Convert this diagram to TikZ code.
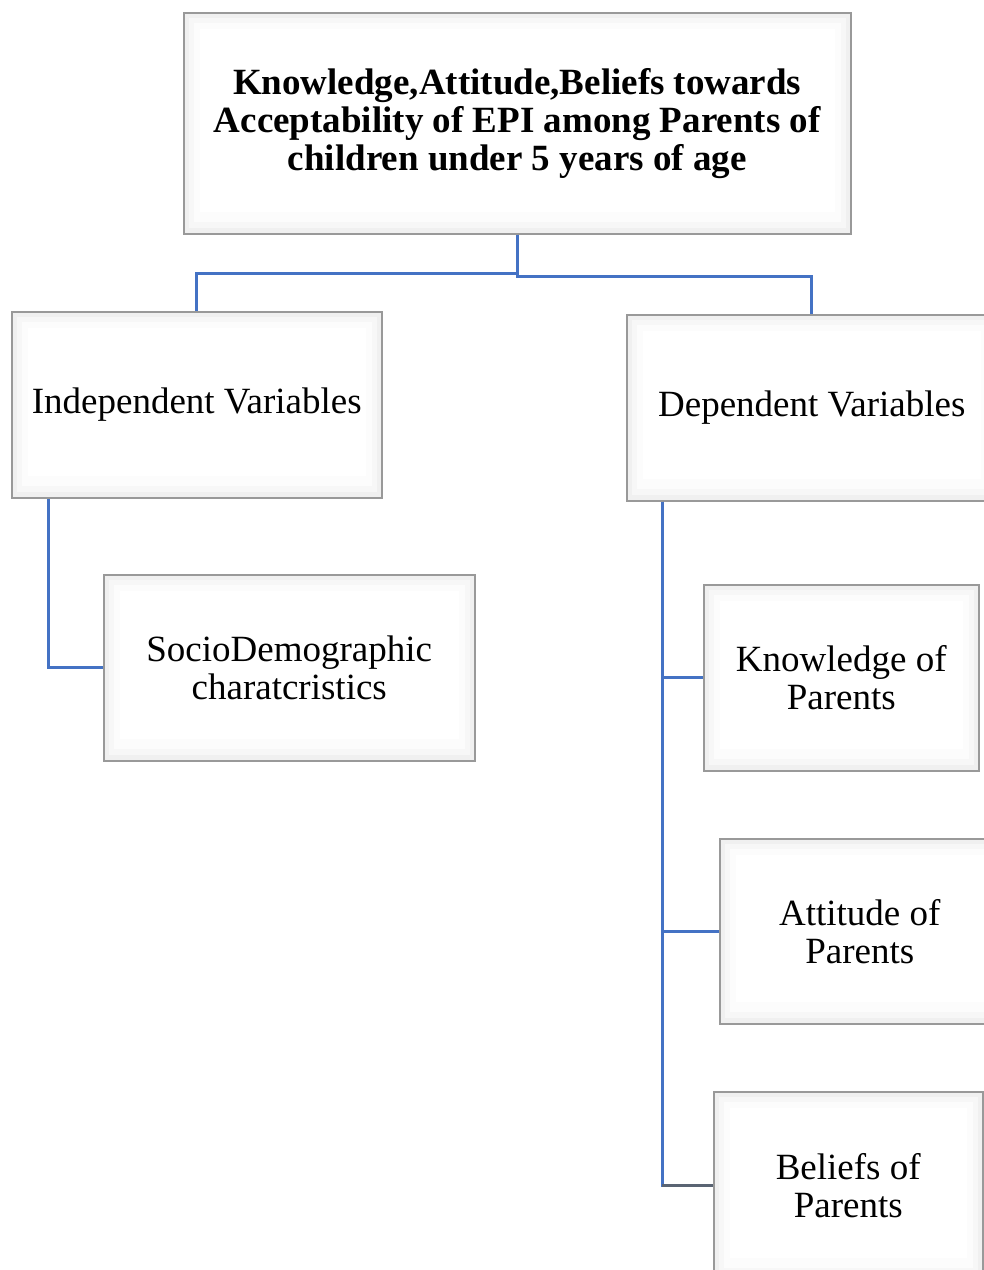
\documentclass[tikz,border=0pt]{standalone}
\usepackage{fontspec}
\setmainfont{Liberation Serif}
\begin{document}
\begin{tikzpicture}[x=1pt,y=-1pt,
  box/.style={draw=black!40, line width=1.5pt, fill=black!6, anchor=north west, inner sep=0pt,
    align=center, font=\fontsize{37}{38}\selectfont,
    path picture={
      \fill[black!3] ([shift={(5pt,-5pt)}]path picture bounding box.north west) rectangle ([shift={(-5pt,6pt)}]path picture bounding box.south east);
      \fill[black!1] ([shift={(10pt,-10pt)}]path picture bounding box.north west) rectangle ([shift={(-10pt,12pt)}]path picture bounding box.south east);
      \fill[white] ([shift={(16pt,-16pt)}]path picture bounding box.north west) rectangle ([shift={(-16pt,22pt)}]path picture bounding box.south east);
    }},
  conn/.style={draw={rgb,255:red,68;green,114;blue,196}, line width=3pt},
  darkconn/.style={draw={rgb,255:red,90;green,100;blue,115}, line width=3pt}
]
\clip (0,0) rectangle (984,1270);
\fill[white] (0,0) rectangle (984,1270);
\node[box, minimum width=667pt, minimum height=221pt, font=\bfseries\fontsize{37}{38}\selectfont] (top) at (183,12)
  {Knowledge,Attitude,Beliefs towards\\Acceptability of EPI among Parents of\\children under 5 years of age};
\node[box, minimum width=370pt, minimum height=186pt] (ind) at (11,311) {Independent Variables};
\node[box, minimum width=370pt, minimum height=186pt] (dep) at (626,314) {Dependent Variables};
\node[box, minimum width=371pt, minimum height=186pt] (socio) at (103,574) {SocioDemographic\\charatcristics};
\node[box, minimum width=275pt, minimum height=186pt] (know) at (703,584) {Knowledge of\\Parents};
\node[box, minimum width=280pt, minimum height=185pt] (att) at (719,838) {Attitude of\\Parents};
\node[box, minimum width=269pt, minimum height=188pt] (bel) at (713,1091) {Beliefs of\\Parents};
\coordinate (ia) at ([xshift=37pt]ind.south west);
\coordinate (da) at ([xshift=36pt]dep.south west);
\draw[conn] (top.south) -- ++(0,39) -| (ind.north);
\draw[conn] (top.south) -- ++(0,42) -| (dep.north);
\draw[conn] (ia) |- (socio.west);
\draw[conn] (da) |- (know.west);
\draw[conn] (da) |- (att.west);
\draw[conn] (da) |- (bel.west);
\draw[darkconn] (da |- bel.west) -- (bel.west);
\end{tikzpicture}
\end{document}
